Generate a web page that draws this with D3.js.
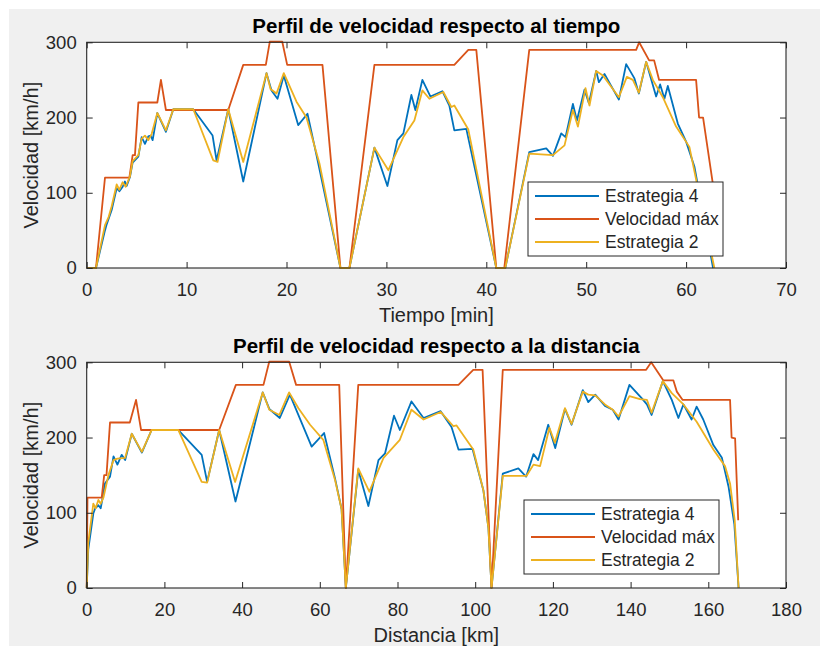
<!DOCTYPE html>
<html>
<head>
<meta charset="utf-8">
<script src="https://cdn.jsdelivr.net/npm/d3@7"></script>
<style>
  html, body { margin: 0; padding: 0; background: #ffffff; }
  svg { display: block; }
  text { font-family: "Liberation Sans", Arial, Helvetica, sans-serif; fill: #262626; }
</style>
</head>
<body>
<svg id="fig" width="820" height="650"></svg>
<script>
// ---- data: [x, km/h] ----

// top panel, x = time [min]
const e4Time = [[0,0],[0.93,0],[1.83,50],[2.0,58],[2.5,77],[3.0,106],[3.27,102],[3.6,108],[3.83,115],[4.0,109],[4.33,121],[4.6,140],[5.17,148],[5.5,174],[5.83,165],[6.17,175],[6.4,176],[6.6,170],[7.07,206],[7.93,181],[8.67,211],[10.67,211],[12.6,176],[13.0,143],[14.17,211],[15.67,115],[18.0,259],[18.5,236],[19.1,225],[19.73,256],[21.17,190],[22.1,205],[23.0,150],[25.4,0],[26.3,0],[28.8,160],[30.1,109],[31.1,170],[31.7,179],[32.5,230],[32.9,210],[33.6,250],[34.4,228],[35.6,235],[36.3,216],[36.8,183],[38.0,185],[41.0,0],[41.9,0],[44.3,154],[46.0,159],[46.67,149],[47.5,179],[47.93,174],[48.67,218],[49.07,196],[49.83,237],[50.27,219],[51.0,262],[51.27,247],[51.83,258],[52.5,242],[53.27,224],[54.0,271],[54.83,252],[55.27,232],[56.0,274],[57.0,228],[57.4,244],[57.83,225],[58.17,242],[59.17,192],[60.0,168],[60.83,135],[62.7,0]];
const vmaxTime = [[0,0],[0.93,0],[1.83,120],[4.27,120],[4.6,150],[4.83,150],[5.17,220],[7.07,220],[7.43,250],[7.93,210],[14.17,210],[15.67,270],[17.93,270],[18.33,301],[19.57,301],[20.07,270],[23.6,270],[25.4,0],[26.3,0],[28.8,270],[36.8,270],[38.2,290],[39.0,290],[41.0,0],[41.8,0],[44.3,290],[55.0,290],[55.3,300],[56.3,276],[56.8,276],[57.3,250],[61.0,250],[61.3,200],[61.7,200],[62.9,92]];
const e2Time = [[0,0],[0.93,0],[1.83,57],[2.2,68],[2.5,82],[3.0,111],[3.27,104],[3.6,114],[3.9,108],[4.33,122],[4.6,142],[5.17,150],[5.5,172],[5.83,176],[6.17,170],[6.5,178],[7.07,206],[7.93,183],[8.67,211],[10.67,211],[12.67,143],[13.1,141],[14.17,211],[15.67,141],[18.0,259],[18.4,238],[19.0,232],[19.73,259],[21.0,221],[22.0,200],[23.3,139],[25.4,0],[26.3,0],[28.8,160],[30.2,130],[31.7,174],[32.8,196],[33.6,236],[34.3,225],[35.7,234],[36.5,214],[36.8,216],[38.2,184],[41.0,0],[41.9,0],[44.3,152],[46.67,150],[47.83,163],[48.67,210],[49.17,188],[49.93,239],[50.33,216],[51.0,262],[51.67,256],[52.5,241],[53.27,227],[54.07,254],[54.67,250],[55.27,233],[56.0,274],[56.67,250],[57.67,227],[59.0,188],[60.33,161],[62.83,0]];

// bottom panel, x = distance [km]
const e4Dist = [[0,0],[0.4,51],[1.7,99],[2.2,106],[3.0,110],[3.6,106],[4.1,120],[4.7,139],[6.0,148],[6.9,175],[7.9,164],[9.0,177],[9.9,170],[11.6,205],[14.2,180],[16.7,210],[23.6,210],[29.6,177],[31.0,141],[34.1,210],[38.3,115],[45.3,260],[47.0,238],[49.7,226],[52.3,257],[57.9,188],[61.1,206],[63.9,146],[65.6,105],[66.7,0],[69.9,157],[72.5,109],[75.1,170],[76.8,179],[79.1,229],[80.6,210],[83.6,248],[86.7,226],[91.1,235],[93.9,214],[95.7,184],[99.3,185],[102.1,130],[103.4,80],[104.2,0],[107.1,152],[111.1,159],[113.1,148],[115.0,178],[116.2,170],[118.8,217],[120.6,186],[123.1,238],[124.8,217],[127.7,263],[129.1,247],[130.9,257],[133.4,242],[135.4,237],[136.9,224],[139.7,270],[142.9,252],[144.2,244],[145.4,230],[148.3,275],[150.6,250],[152.3,226],[153.6,244],[155.7,224],[157.0,241],[158.7,224],[161.3,190],[163.5,173],[165.2,135],[166.7,85],[167.8,0]];
const vmaxDist = [[0,0],[0.2,120],[3.86,120],[4.5,150],[5.1,150],[6.0,220],[11.1,220],[12.7,250],[14.0,210],[34.1,210],[38.4,270],[45.5,270],[47.0,301],[52.1,301],[53.9,270],[65.0,270],[66.7,0],[69.9,270],[95.7,270],[99.5,290],[101.9,290],[104.2,0],[107.1,290],[144.0,290],[145.3,300],[148.4,276],[151.0,276],[151.9,261],[153.4,250],[165.6,250],[166.0,200],[166.9,199],[167.7,90]];
const e2Dist = [[0,0],[0.4,60],[1.7,112],[2.3,106],[3.0,117],[3.6,112],[4.3,120],[5.6,150],[6.9,170],[7.9,172],[9.9,173],[11.6,205],[14.2,181],[16.7,210],[23.6,210],[29.6,141],[31.0,140],[34.1,210],[38.2,141],[45.3,260],[47.0,237],[49.6,230],[52.1,260],[54.5,239],[57.5,217],[60.9,197],[63.9,144],[65.6,105],[66.7,0],[69.9,159],[72.75,128],[76.4,173],[80.6,197],[83.6,237],[86.7,224],[91.1,234],[94.4,215],[95.2,216],[99.5,184],[102.1,130],[103.4,80],[104.2,0],[107.1,149],[113.2,149],[115.0,164],[116.7,162],[119.1,213],[120.5,193],[123.1,239],[124.8,218],[127.7,261],[129.1,257],[130.9,256],[133.4,244],[135.4,237],[136.9,228],[139.7,255],[142.4,251],[144.2,250],[145.4,233],[148.3,275],[150.6,259],[153.6,244],[157.0,221],[161.3,184],[164.3,162],[165.6,139],[166.8,90],[167.8,0]];

const seriesNames = ["Estrategia 4", "Velocidad máx", "Estrategia 2"];
const seriesColors = ["#0072BD", "#D95319", "#EDB120"];
const yTicks = [0, 100, 200, 300];
const timeTicks = [0, 10, 20, 30, 40, 50, 60, 70];
const distTicks = [0, 20, 40, 60, 80, 100, 120, 140, 160, 180];

const svg = d3.select("#fig");

// figure background (MATLAB grey)
svg.append("rect")
  .attr("x", 9).attr("y", 9)
  .attr("width", 811).attr("height", 637)
  .attr("fill", "#f0f0f0");

const AX = "#262626";

function drawPanel(opts) {
  const { top, bottom, xMax, xTicks, title, xLabel, data, legendTop } = opts;
  const left = 86.7, right = 786;

  const x = d3.scaleLinear().domain([0, xMax]).range([left, right]);
  const y = d3.scaleLinear().domain([0, 300]).range([bottom, top]);

  const g = svg.append("g");

  // axes area
  g.append("rect")
    .attr("x", left).attr("y", top)
    .attr("width", right - left).attr("height", bottom - top)
    .attr("fill", "#ffffff");

  // lines
  const line = d3.line().x(d => x(d[0])).y(d => y(d[1]));
  data.forEach((s, i) => {
    g.append("path")
      .datum(s)
      .attr("d", line)
      .attr("fill", "none")
      .attr("stroke", seriesColors[i])
      .attr("stroke-width", 1.8)
      .attr("stroke-linejoin", "round");
  });

  // ticks (inward) + labels
  const xb = g.append("g").attr("transform", `translate(0,${bottom})`)
    .call(d3.axisBottom(x).tickValues(xTicks).tickSizeInner(-6).tickSizeOuter(0).tickPadding(15));
  const xt = g.append("g").attr("transform", `translate(0,${top})`)
    .call(d3.axisTop(x).tickValues(xTicks).tickSizeInner(-6).tickSizeOuter(0).tickFormat(""));
  const yl = g.append("g").attr("transform", `translate(${left},0)`)
    .call(d3.axisLeft(y).tickValues(yTicks).tickSizeInner(-6).tickSizeOuter(0).tickPadding(10));
  const yr = g.append("g").attr("transform", `translate(${right},0)`)
    .call(d3.axisRight(y).tickValues(yTicks).tickSizeInner(-6).tickSizeOuter(0).tickFormat(""));

  [xb, xt, yl, yr].forEach(a => {
    a.select(".domain").remove();
    a.selectAll("line").attr("stroke", AX).attr("stroke-width", 1);
    a.selectAll("text")
      .attr("fill", AX)
      .style("font-size", "18.5px")
      .style("font-family", "'Liberation Sans', Arial, Helvetica, sans-serif");
  });

  // box
  g.append("rect")
    .attr("x", left).attr("y", top)
    .attr("width", right - left).attr("height", bottom - top)
    .attr("fill", "none")
    .attr("stroke", AX)
    .attr("stroke-width", 1.1);

  // title
  g.append("text")
    .attr("x", (left + right) / 2).attr("y", top - 9.5)
    .attr("text-anchor", "middle")
    .style("font-size", "20.5px")
    .style("font-weight", "bold")
    .style("fill", "#000")
    .text(title);

  // x label
  g.append("text")
    .attr("x", (left + right) / 2).attr("y", bottom + 54)
    .attr("text-anchor", "middle")
    .style("font-size", "20px")
    .text(xLabel);

  // y label
  g.append("text")
    .attr("transform", `translate(38,${(top + bottom) / 2}) rotate(-90)`)
    .attr("text-anchor", "middle")
    .style("font-size", "20px")
    .text("Velocidad [km/h]");

  // legend
  const lg = g.append("g");
  lg.append("rect")
    .attr("x", opts.legendLeft).attr("y", legendTop)
    .attr("width", opts.legendWidth).attr("height", 74)
    .attr("fill", "#ffffff")
    .attr("stroke", AX)
    .attr("stroke-width", 1);
  seriesNames.forEach((name, i) => {
    const ry = legendTop + 14 + i * 23;
    lg.append("line")
      .attr("x1", opts.legendLeft + 7).attr("x2", opts.legendLeft + 71)
      .attr("y1", ry).attr("y2", ry)
      .attr("stroke", seriesColors[i])
      .attr("stroke-width", 1.8);
    lg.append("text")
      .attr("x", opts.legendLeft + 77).attr("y", ry)
      .attr("dy", "0.35em")
      .style("font-size", "17.5px")
      .text(name);
  });
}

drawPanel({
  top: 42.3, bottom: 268, xMax: 70, xTicks: timeTicks,
  title: "Perfil de velocidad respecto al tiempo",
  xLabel: "Tiempo [min]",
  data: [e4Time, vmaxTime, e2Time],
  legendTop: 182, legendLeft: 528, legendWidth: 195
});

drawPanel({
  top: 362.3, bottom: 588, xMax: 180, xTicks: distTicks,
  title: "Perfil de velocidad respecto a la distancia",
  xLabel: "Distancia [km]",
  data: [e4Dist, vmaxDist, e2Dist],
  legendTop: 500, legendLeft: 524, legendWidth: 195
});
</script>
</body>
</html>
